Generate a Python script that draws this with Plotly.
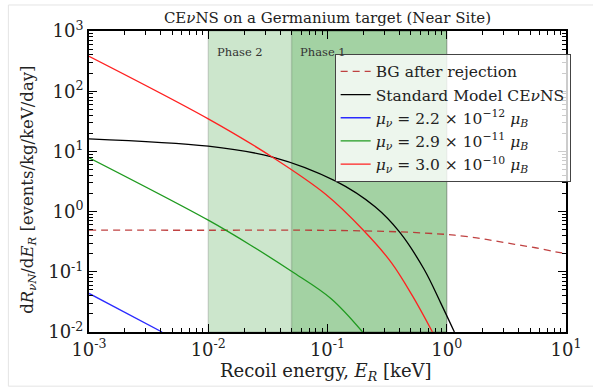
import numpy as np
import plotly.graph_objects as go

# ---------------- data ----------------
bg_x = [0.001, 0.01, 0.1, 0.4, 1.0, 1.22, 1.78, 2.61, 3.81, 5.56, 8.13, 10.0]
bg_y = [0.491, 0.490, 0.488, 0.461, 0.417, 0.401, 0.367, 0.323, 0.284, 0.251, 0.215, 0.201]

sm_x = [0.001, 0.01, 0.0341, 0.1172, 0.2506, 0.4027, 0.6471, 0.889, 1.159]
sm_y = [16.2, 12.19, 8.13, 3.20, 1.20, 0.455, 0.109, 0.0305, 0.01]

blue_x = [0.001, 0.0041]
blue_y = [0.0437, 0.01]

green_x = [0.001, 0.01, 0.0234, 0.0499, 0.1067, 0.1968]
green_y = [7.83, 0.720, 0.266, 0.102, 0.036, 0.01]

red_x = [0.001, 0.01, 0.0341, 0.0970, 0.2009, 0.3443, 0.5176, 0.7586]
red_y = [380.0, 34.7, 8.13, 1.92, 0.485, 0.141, 0.0394, 0.01]

phase2 = [0.01, 1.0]
phase1 = [0.05, 1.0]

y_tickvals = [1e-2, 1e-1, 1e0, 1e1, 1e2, 1e3]
y_ticktext = ["10<sup>-2</sup>", "10<sup>-1</sup>", "10<sup>0</sup>", "10<sup>1</sup>",
              "10<sup>2</sup>", "10<sup>3</sup>"]
x_tickvals = [1e-3, 1e-2, 1e-1, 1e0, 1e1]
x_ticktext = ["10<sup>-3</sup>", "10<sup>-2</sup>", "10<sup>-1</sup>", "10<sup>0</sup>",
              "10<sup>1</sup>"]

names = [
    "BG after rejection",
    "Standard Model CE<i>ν</i>NS",
    "<i>μ<sub>ν</sub></i> = 2.2 × 10<sup>−12</sup> <i>μ<sub>B</sub></i>",
    "<i>μ<sub>ν</sub></i> = 2.9 × 10<sup>−11</sup> <i>μ<sub>B</sub></i>",
    "<i>μ<sub>ν</sub></i> = 3.0 × 10<sup>−10</sup> <i>μ<sub>B</sub></i>",
]

FONT = "DejaVu Serif"

fig = go.Figure()
fig.add_trace(go.Scatter(x=bg_x, y=bg_y, mode="lines", name=names[0],
                         line=dict(color="rgba(185,45,45,0.9)", width=1.3, dash="7px,5px", shape="spline")))
fig.add_trace(go.Scatter(x=sm_x, y=sm_y, mode="lines", name=names[1],
                         line=dict(color="black", width=1.3, shape="spline", smoothing=1.0)))
fig.add_trace(go.Scatter(x=blue_x, y=blue_y, mode="lines", name=names[2],
                         line=dict(color="#2a2aff", width=1.3)))
fig.add_trace(go.Scatter(x=green_x, y=green_y, mode="lines", name=names[3],
                         line=dict(color="#1f9a1f", width=1.3, shape="spline", smoothing=1.0)))
fig.add_trace(go.Scatter(x=red_x, y=red_y, mode="lines", name=names[4],
                         line=dict(color="#ff2020", width=1.3, shape="spline", smoothing=1.0)))

# shaded phases
for (a, b) in (phase2, phase1):
    fig.add_shape(type="rect", xref="x", yref="paper", x0=a, x1=b, y0=0, y1=1,
                  fillcolor="rgba(0,128,0,0.2)", line=dict(color="rgba(0,0,0,0.13)", width=1.5),
                  layer="below")

fig.add_annotation(x=np.log10(0.0113), y=0.930, xref="x", yref="paper", text="Phase 2",
                   showarrow=False, xanchor="left", yanchor="middle",
                   font=dict(family=FONT, size=11.5, color="#333"))
fig.add_annotation(x=np.log10(0.057), y=0.930, xref="x", yref="paper", text="Phase 1",
                   showarrow=False, xanchor="left", yanchor="middle",
                   font=dict(family=FONT, size=11.5, color="#333"))

# axis titles as annotations
fig.add_annotation(x=-0.126, y=0.472, xref="paper", yref="paper", textangle=-90,
                   text="d<i>R</i><sub><i>νN</i></sub>/d<i>E</i><sub><i>R</i></sub> [events/kg/keV/day]",
                   showarrow=False, xanchor="center", yanchor="middle",
                   font=dict(family=FONT, size=16.5, color="#222"))
fig.add_annotation(x=0.497, y=-0.133, xref="paper", yref="paper",
                   text="Recoil energy, <i>E</i><sub><i>R</i></sub> [keV]",
                   showarrow=False, xanchor="center", yanchor="middle",
                   font=dict(family=FONT, size=18, color="#222"))

# faint outer frame of the image
fig.add_shape(type="rect", xref="paper", yref="paper", x0=-0.169, x1=1.2, y0=-0.18, y1=1.0864,
              line=dict(color="#e4e4e4", width=1), fillcolor="rgba(0,0,0,0)", layer="below")

minor_vals = [m * 10.0 ** e for e in range(-4, 4) for m in range(2, 10)]

axis_common = dict(
    type="log", showline=True, linecolor="black", linewidth=2, mirror="allticks",
    ticks="inside", ticklen=8, tickwidth=1, tickcolor="black",
    showgrid=False, zeroline=False,
    tickfont=dict(family=FONT, size=18, color="#222"),
)

fig.update_xaxes(range=[-3, 1], tickmode="array", tickvals=x_tickvals, ticktext=x_ticktext,
                 minor=dict(ticks="inside", ticklen=4, tickwidth=1, tickcolor="black",
                            tickmode="array", tickvals=minor_vals, showgrid=False),
                 **axis_common)
fig.update_yaxes(range=[-2, 3], tickmode="array", tickvals=y_tickvals, ticktext=y_ticktext,
                 minor=dict(ticks="inside", ticklen=4, tickwidth=1, tickcolor="black",
                            tickmode="array", tickvals=minor_vals, showgrid=False),
                 **axis_common)

fig.update_layout(
    width=593, height=387,
    margin=dict(l=89, r=19, t=31, b=55),
    paper_bgcolor="white", plot_bgcolor="white",
    title=dict(text="CE<i>ν</i>NS on a Germanium target (Near Site)", x=0.5, xref="paper",
               y=1 - 18 / 387, yref="container", xanchor="center", yanchor="middle",
               font=dict(family=FONT, size=15, color="#222")),
    legend=dict(x=0.515, y=0.924, xanchor="left", yanchor="top",
                bgcolor="rgba(255,255,255,0.8)", bordercolor="#444", borderwidth=1,
                itemwidth=30,
                font=dict(family=FONT, size=15.5, color="#222"), tracegroupgap=0),
    showlegend=True,
)

fig.write_html("out.html")
